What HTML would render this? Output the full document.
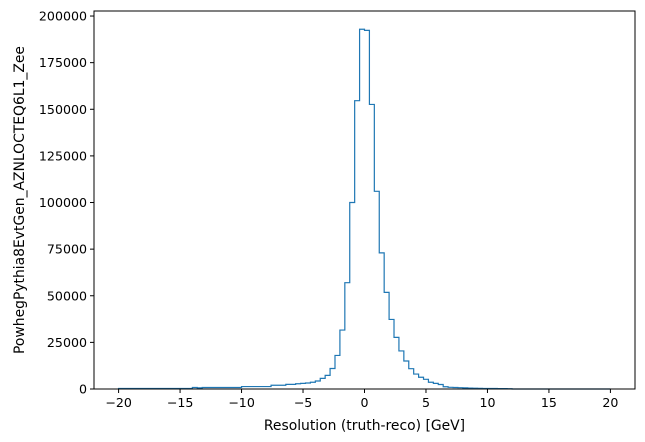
<!DOCTYPE html>
<html><head><meta charset="utf-8"><style>
body{margin:0;background:#fff}
svg{display:block;font-family:"DejaVu Sans","Liberation Sans",sans-serif}
</style></head><body>
<svg id="chart" width="645" height="442" viewBox="0 0 645 442">
<rect x="0" y="0" width="645" height="442" fill="#fff"/>
<g id="plot"></g>
</svg>
<script>
const binStart = -20;
const binWidth = 0.4;
const counts = [300,300,300,300,300,300,300,300,300,300,300,300,300,300,300,800,600,800,800,800,
800,800,800,800,800,1300,1300,1300,1300,1300,1300,2000,2000,2000,2500,2500,2800,3000,3200,3600,
4300,5700,7300,11000,18000,31600,57000,100000,154600,192900,192300,152600,106000,73000,51800,37300,27700,20400,15000,10900,
8000,6300,5200,3600,3000,2400,1200,900,800,700,600,500,400,350,300,300,250,200,200,150,
0,0,0,0,0,0,0,0,0,0,0,0,0,0,0,0,0,0,0,0];
const xTicks = [-20,-15,-10,-5,0,5,10,15,20];
const yTicks = [0,25000,50000,75000,100000,125000,150000,175000,200000];
const xLabel = "Resolution (truth-reco) [GeV]";
const yLabel = "PowhegPythia8EvtGen_AZNLOCTEQ6L1_Zee";

const L=94,R=635,T=11,B=389;
const xMin=-22,xMax=22,yMin=0,yMax=202700;
const sx=v=>L+(v-xMin)/(xMax-xMin)*(R-L);
const sy=v=>B-(v-yMin)/(yMax-yMin)*(B-T);
const NS="http://www.w3.org/2000/svg";
const g=document.getElementById('plot');
function mk(t,a){const e=document.createElementNS(NS,t);for(const k in a)e.setAttribute(k,a[k]);g.appendChild(e);return e;}

let d=`M${sx(binStart)},${sy(0)}`;
counts.forEach((c,i)=>{const x0=sx(binStart+i*binWidth),x1=sx(binStart+(i+1)*binWidth);d+=` L${x0},${sy(c)} L${x1},${sy(c)}`;});
d+=` L${sx(binStart+counts.length*binWidth)},${sy(0)}`;
const p=mk('path',{d:d,fill:'none',stroke:'#1f77b4','stroke-width':1.2});



const fr=mk('rect',{x:L,y:T,width:R-L,height:B-T,fill:'none',stroke:'#000','stroke-width':1});



xTicks.forEach(v=>{
  const x=sx(v);
  const t=mk('line',{x1:x,x2:x,y1:B,y2:B+4,stroke:'#000'});
  
  
  const tx=mk('text',{x:x,y:B+18,'font-size':12.6,'text-anchor':'middle',fill:'#000'});
  tx.textContent=v<0?'\u2212'+(-v):String(v);
  
  
});
yTicks.forEach(v=>{
  const y=sy(v);
  const t=mk('line',{x1:L-4,x2:L,y1:y,y2:y,stroke:'#000'});
  
  
  const tx=mk('text',{x:L-7,y:y+4.5,'font-size':12.6,'text-anchor':'end',fill:'#000'});
  tx.textContent=String(v);
  
  
});
const xl=mk('text',{x:(L+R)/2,y:430,'font-size':13.9,'text-anchor':'middle',fill:'#000'});
xl.textContent=xLabel;


const yl=mk('text',{x:0,y:0,'font-size':13.9,'text-anchor':'middle',fill:'#000',transform:`translate(24,${(T+B)/2}) rotate(-90)`});
yl.textContent=yLabel;


</script>
</body></html>
